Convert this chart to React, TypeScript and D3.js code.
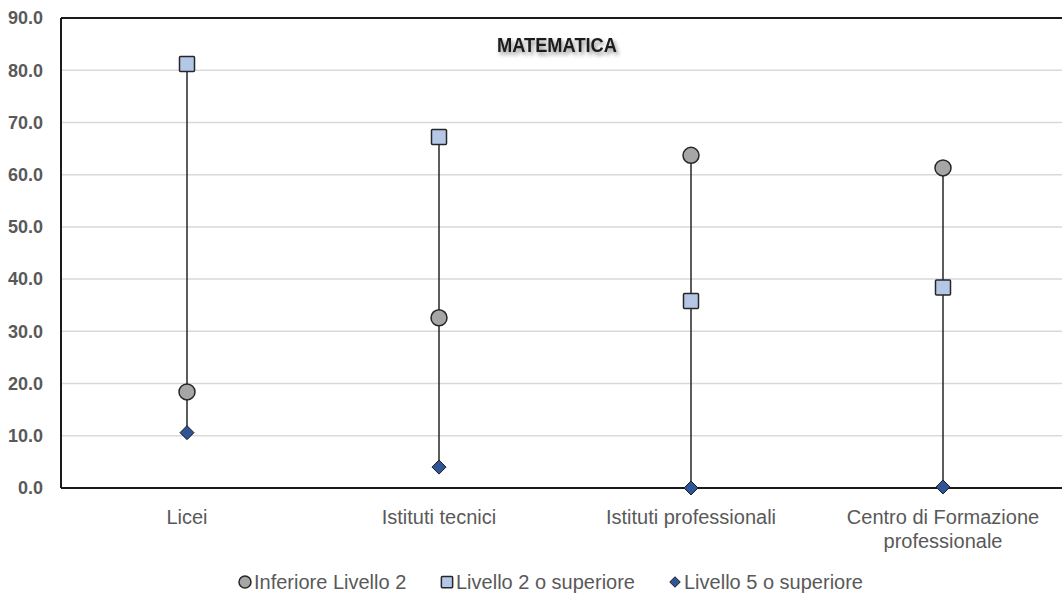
import React from "react";
import * as d3 from "d3";

const categories = ["Licei", "Istituti tecnici", "Istituti professionali", "Centro di Formazione professionale"];
const categoryLines = [["Licei"], ["Istituti tecnici"], ["Istituti professionali"], ["Centro di Formazione", "professionale"]];
const inferioreLivello2 = [18.4, 32.6, 63.7, 61.3];
const livello2Superiore = [81.2, 67.2, 35.8, 38.4];
const livello5Superiore = [10.6, 4.0, 0.0, 0.2];
const yTicks = [0, 10, 20, 30, 40, 50, 60, 70, 80, 90];
const seriesNames = ["Inferiore Livello 2", "Livello 2 o superiore", "Livello 5 o superiore"];

const W = 1062;
const H = 603;
const M = { left: 61, right: -7, top: 18, bottom: 115 };
const FONT = "'Liberation Sans', Arial, sans-serif";

export default function App() {
  const x = d3.scaleBand<string>().domain(categories).range([M.left, W - M.right]).padding(0);
  const y = d3.scaleLinear().domain([0, 90]).range([H - M.bottom, M.top]);
  const cx = (c: string) => (x(c) as number) + x.bandwidth() / 2;
  const legendItems = [
    { name: seriesNames[0], x: 245, kind: "circle" },
    { name: seriesNames[1], x: 447, kind: "square" },
    { name: seriesNames[2], x: 675, kind: "diamond" },
  ];
  const marker = (kind: string, px: number, py: number, s = 1) => {
    if (kind === "circle")
      return <circle cx={px} cy={py} r={8 * s} fill="#a6a6a6" stroke="#262626" strokeWidth={1.5} />;
    if (kind === "square")
      return <rect x={px - 7.5 * s} y={py - 7.5 * s} width={15 * s} height={15 * s} fill="#b4c7e7" stroke="#262626" strokeWidth={1.5} rx={1} />;
    const h = 7 * s;
    return (
      <path
        d={`M${px},${py - h}L${px + h},${py}L${px},${py + h}L${px - h},${py}Z`}
        fill="#2f5597"
        stroke="#1a1a1a"
        strokeWidth={1}
      />
    );
  };
  return (
    <svg width={W} height={H} style={{ position: "fixed", left: 0, top: 0, background: "#fff" }} fontFamily={FONT}>
      <defs>
        <filter id="shadow" x="-20%" y="-50%" width="140%" height="200%">
          <feDropShadow dx="2" dy="3" stdDeviation="2" floodColor="#000" floodOpacity="0.45" />
        </filter>
      </defs>
      {yTicks.map((t) => (
        <g key={t}>
          {t > 0 && t < 90 && <line x1={M.left} x2={W} y1={y(t)} y2={y(t)} stroke="#d9d9d9" strokeWidth={1.5} />}
          <text x={43} y={y(t)} dy="0.35em" textAnchor="end" fontSize={18} fontWeight="bold" fill="#595959">
            {t.toFixed(1)}
          </text>
        </g>
      ))}
      <line x1={M.left} x2={W} y1={y(90)} y2={y(90)} stroke="#1a1a1a" strokeWidth={2} />
      <line x1={M.left} x2={M.left} y1={y(90)} y2={y(0)} stroke="#1a1a1a" strokeWidth={2} />
      <line x1={M.left} x2={W} y1={y(0)} y2={y(0)} stroke="#1a1a1a" strokeWidth={2} />
      <text x={557} y={45} dy="0.35em" textAnchor="middle" fontSize={20} fontWeight="bold" fill="#1a1a1a" filter="url(#shadow)" textLength={120} lengthAdjust="spacingAndGlyphs">
        MATEMATICA
      </text>
      {categories.map((c, i) => {
        const vals = [inferioreLivello2[i], livello2Superiore[i], livello5Superiore[i]];
        return (
          <g key={c}>
            <line x1={cx(c)} x2={cx(c)} y1={y(d3.min(vals) as number)} y2={y(d3.max(vals) as number)} stroke="#262626" strokeWidth={1.5} />
            {marker("circle", cx(c), y(inferioreLivello2[i]))}
            {marker("square", cx(c), y(livello2Superiore[i]))}
            {marker("diamond", cx(c), y(livello5Superiore[i]))}
            {categoryLines[i].map((ln, j) => (
              <text key={j} x={cx(c)} y={524 + j * 24} textAnchor="middle" fontSize={20} fill="#595959">
                {ln}
              </text>
            ))}
          </g>
        );
      })}
      {legendItems.map((it) => (
        <g key={it.name}>
          {marker(it.kind, it.x, 582, 0.75)}
          <text x={it.x + 9} y={582} dy="0.35em" fontSize={20} fill="#595959">
            {it.name}
          </text>
        </g>
      ))}
    </svg>
  );
}
